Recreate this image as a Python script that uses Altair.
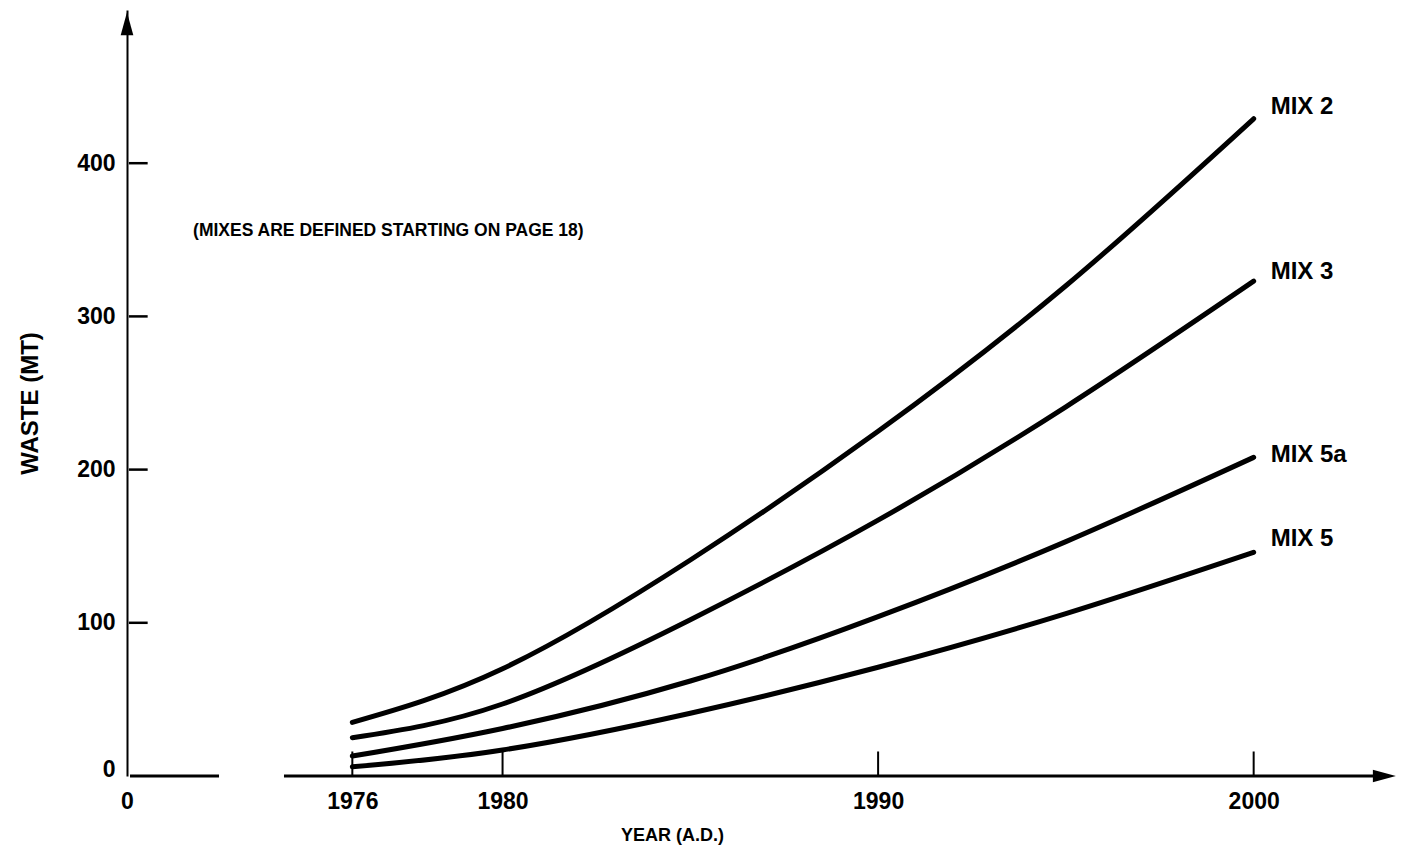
import altair as alt
import pandas as pd

# ---- data ----
years = [1976, 1980, 1985, 1990, 1995, 2000]
mix2 = [35, 70, 141, 225, 320, 429]
mix3 = [25, 47, 102, 167, 241, 323]
mix5a = [13, 31, 62, 104, 153, 208]
mix5 = [6, 17, 41, 71, 106, 146]

series_names = ["MIX 2", "MIX 3", "MIX 5a", "MIX 5"]
series_values = [mix2, mix3, mix5a, mix5]
label_values = [437, 329, 209.5, 155]          # where each end label sits

y_ticks = [100, 200, 300, 400]
x_ticks = [1976, 1980, 1990, 2000]
note = "(MIXES ARE DEFINED STARTING ON PAGE 18)"

FONT = "Liberation Sans"

rows = []
for name, vals in zip(series_names, series_values):
    for yr, v in zip(years, vals):
        rows.append({"year": yr, "waste": v, "mix": name})
df = pd.DataFrame(rows)

labels_df = pd.DataFrame({"year": [2000] * 4, "waste": label_values, "mix": series_names})

xs = alt.Scale(domain=[1970, 2003.79], nice=False, zero=False)
ys = alt.Scale(domain=[0, 500], nice=False, zero=True)

x_axis = alt.Axis(
    values=[1970] + x_ticks, format="d",
    labelExpr="datum.value == 1970 ? '0' : datum.label",
    domain=False, ticks=False, tickSize=0, grid=False,
    labelFlush=False, labelOverlap=False, labelPadding=14,
    labelFont=FONT, labelFontSize=23, labelFontWeight="bold", labelColor="black",
    title="YEAR (A.D.)", titleFont=FONT, titleFontSize=18, titleFontWeight="bold",
    titleColor="black", titleX=545, titleY=59, titleAlign="center", titleBaseline="middle",
)
y_axis = alt.Axis(
    values=[0] + y_ticks,
    domain=True, domainColor="black", domainWidth=2,
    ticks=False, tickSize=0, grid=False, labelPadding=12,
    labelFont=FONT, labelFontSize=23, labelFontWeight="bold", labelColor="black",
    labelBaseline={"condition": {"test": "datum.value == 0", "value": "alphabetic"}, "value": "middle"},
    title="WASTE (MT)", titleFont=FONT, titleFontSize=24, titleFontWeight="bold",
    titleColor="black", titleX=-97, titleY=393, titleAngle=270,
    titleAlign="center", titleBaseline="middle",
)

lines = alt.Chart(df).mark_line(
    interpolate="natural", strokeWidth=5, strokeCap="round", color="black"
).encode(
    x=alt.X("year:Q", scale=xs, axis=x_axis),
    y=alt.Y("waste:Q", scale=ys, axis=y_axis),
    detail="mix:N",
)

end_labels = alt.Chart(labels_df).mark_text(
    align="left", baseline="middle", dx=17, font=FONT, fontSize=24,
    fontWeight="bold", color="black"
).encode(x=alt.X("year:Q", scale=xs), y=alt.Y("waste:Q", scale=ys), text="mix:N")

# broken x axis line
seg_df = pd.DataFrame({"x": [1970.08, 1974.18], "x2": [1972.45, 2003.2], "y": [0, 0]})
xline = alt.Chart(seg_df).mark_rule(strokeWidth=3, color="black").encode(
    x=alt.X("x:Q", scale=xs), x2="x2:Q", y=alt.Y("y:Q", scale=ys)
)

# x ticks pointing up
xt_df = pd.DataFrame({"x": x_ticks, "y": [0] * 4, "y2": [16] * 4})
xticks = alt.Chart(xt_df).mark_rule(strokeWidth=2, color="black").encode(
    x=alt.X("x:Q", scale=xs), y=alt.Y("y:Q", scale=ys), y2="y2:Q"
)

# y ticks pointing inward
yt_df = pd.DataFrame({"y": y_ticks, "x": [1970.05] * 4, "x2": [1970.55] * 4})
yticks = alt.Chart(yt_df).mark_rule(strokeWidth=2.5, color="black").encode(
    y=alt.Y("y:Q", scale=ys), x=alt.X("x:Q", scale=xs), x2="x2:Q"
)

# arrow heads
up_df = pd.DataFrame({"x": [1970], "y": [491]})
up_arrow = alt.Chart(up_df).mark_point(
    shape="M0,-1L0.55,1L-0.55,1Z", filled=True, size=529, color="black", opacity=1
).encode(x=alt.X("x:Q", scale=xs), y=alt.Y("y:Q", scale=ys))

right_df = pd.DataFrame({"x": [2003.48], "y": [0]})
right_arrow = alt.Chart(right_df).mark_point(
    shape="M1,0L-1,-0.55L-1,0.55Z", filled=True, size=529, color="black", opacity=1
).encode(x=alt.X("x:Q", scale=xs), y=alt.Y("y:Q", scale=ys))

note_df = pd.DataFrame({"x": [1971.76], "y": [356], "t": [note]})
note_text = alt.Chart(note_df).mark_text(
    align="left", baseline="middle", font=FONT, fontSize=17.5,
    fontWeight="bold", color="black"
).encode(x=alt.X("x:Q", scale=xs), y=alt.Y("y:Q", scale=ys), text="t:N")

chart = alt.layer(
    lines, end_labels, xline, xticks, yticks, up_arrow, right_arrow, note_text
).properties(
    width=1269, height=766,
    autosize=alt.AutoSizeParams(type="none"),
    padding={"left": 119, "top": 2, "right": 0, "bottom": 70},
    background="white",
).configure_view(stroke=None)

chart.save("out.html", embed_options={"renderer": "svg", "actions": False})
